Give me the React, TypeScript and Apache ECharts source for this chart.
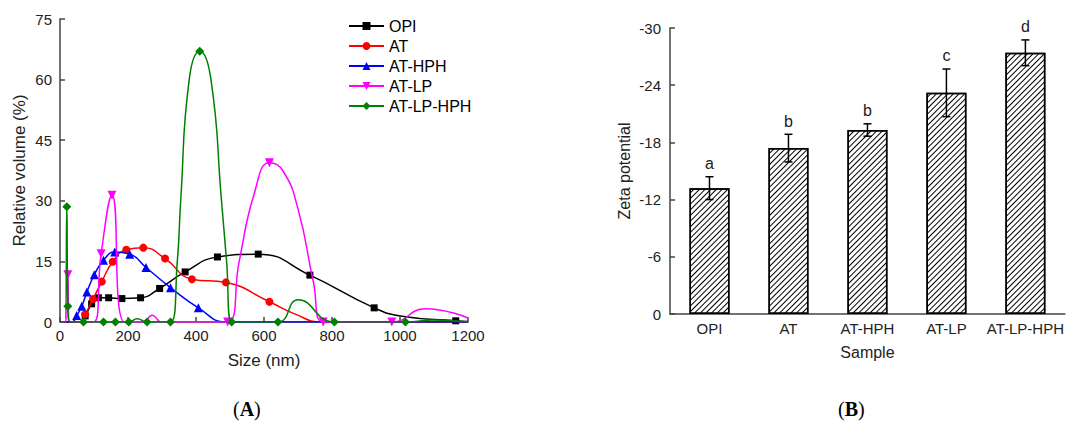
import React, { useEffect, useRef } from "react";
import * as echarts from "echarts";

const FONT = "'Liberation Sans', Arial, Helvetica, sans-serif";
const AXIS_COLOR = "#444";
const TEXT_COLOR = "#222";

// ---------- Panel A: particle size distribution ----------
const A_NAMES = ["OPI", "AT", "AT-HPH", "AT-LP", "AT-LP-HPH"];
const A_COLORS = ["#000000", "#ff0000", "#0000ff", "#ff00ff", "#008000"];

// marked points (with symbol) and unmarked curve points
const OPI_MARK_X = [74, 93, 113, 143, 182, 237, 293, 368, 463, 583, 735, 924, 1164];
const OPI_MARK_Y = [1.5, 4.5, 6.0, 6.0, 5.8, 6.0, 8.3, 12.4, 16.1, 16.8, 11.6, 3.5, 0.3];
const OPI_CURVE_X = [0, 55, 1006, 1200];
const OPI_CURVE_Y = [0, 0, 1.4, 0.1];

const AT_MARK_X = [74, 97, 123, 155, 195, 245, 309, 388, 488, 616];
const AT_MARK_Y = [1.9, 5.7, 10.0, 14.9, 17.9, 18.4, 15.7, 10.6, 9.8, 5.0];
const AT_CURVE_X = [0, 58, 690, 770, 1200];
const AT_CURVE_Y = [0, 0, 2.0, 0, 0];

const HPH_MARK_X = [49, 64, 79, 101, 128, 161, 205, 253, 325, 407];
const HPH_MARK_Y = [1.6, 3.9, 7.4, 11.7, 15.3, 17.3, 16.8, 13.5, 8.5, 3.5];
const HPH_CURVE_X = [0, 35, 490, 1200];
const HPH_CURVE_Y = [0, 0, 0, 0];

const LP_MARK_X = [23, 121, 153, 493, 616, 774, 976];
const LP_MARK_Y = [11.7, 16.9, 31.4, 0, 39.4, 0, 0];
const LP_CURVE_X = [0, 18, 28, 99, 190, 245, 271, 300, 527, 572, 655, 700, 745, 1075, 1200];
const LP_CURVE_Y = [0, 0, 0, 0, 0, 0, 1.7, 0, 15, 32, 37.5, 28, 10, 3.3, 1.0];

const LPH_MARK_X = [20, 23, 69, 128, 163, 202, 256, 325, 411, 505, 641, 807, 1016];
const LPH_MARK_Y = [28.5, 3.9, 0, 0, 0, 0, 0, 0, 67.0, 0, 0, 0, 0];
const LPH_CURVE_X = [0, 15, 30, 227, 345, 355, 380, 444, 475, 490, 700, 1100, 1200];
const LPH_CURVE_Y = [0, 0, 0, 0.8, 15, 30, 60, 60, 30, 15, 5.5, 0.5, 0];

const A_SYMBOLS = ["rect", "circle", "triangle", "path://M0,0L10,0L5,9Z", "diamond"];
const A_SYMBOL_SIZES = [7, 8, 9, 9, 9];

// ---------- Panel B: zeta potential ----------
const SAMPLES = ["OPI", "AT", "AT-HPH", "AT-LP", "AT-LP-HPH"];
const ZETA = [-13.2, -17.4, -19.3, -23.2, -27.4];
const ZETA_ERR = [1.2, 1.45, 0.65, 2.5, 1.35];
const LETTERS = ["a", "b", "b", "c", "d"];

function buildLine(mx: number[], my: number[], cx: number[], cy: number[]) {
  const pts: any[] = [];
  mx.forEach((x, i) => pts.push({ value: [x, my[i]] }));
  cx.forEach((x, i) => pts.push({ value: [x, cy[i]], symbol: "none" }));
  pts.sort((a, b) => a.value[0] - b.value[0]);
  return pts;
}

const LINES = [
  buildLine(OPI_MARK_X, OPI_MARK_Y, OPI_CURVE_X, OPI_CURVE_Y),
  buildLine(AT_MARK_X, AT_MARK_Y, AT_CURVE_X, AT_CURVE_Y),
  buildLine(HPH_MARK_X, HPH_MARK_Y, HPH_CURVE_X, HPH_CURVE_Y),
  buildLine(LP_MARK_X, LP_MARK_Y, LP_CURVE_X, LP_CURVE_Y),
  buildLine(LPH_MARK_X, LPH_MARK_Y, LPH_CURVE_X, LPH_CURVE_Y),
];

export default function App() {
  const ref = useRef<HTMLDivElement>(null);
  useEffect(() => {
    const chart = echarts.init(ref.current!, null, { renderer: "svg" });
    const axisLine = { show: true, lineStyle: { color: AXIS_COLOR, width: 1.5 } };
    const axisLabel = { fontSize: 15, color: TEXT_COLOR, fontFamily: FONT };
    const nameStyle = { fontSize: 17, color: TEXT_COLOR, fontFamily: FONT };
    const serif = "'Liberation Serif', 'Times New Roman', serif";

    const lineSeries = A_NAMES.map((name, i) => ({
      name,
      type: "line",
      xAxisIndex: 0,
      yAxisIndex: 0,
      data: LINES[i],
      smooth: 0.5,
      showSymbol: true,
      showAllSymbol: true,
      symbol: A_SYMBOLS[i],
      symbolSize: A_SYMBOL_SIZES[i],
      itemStyle: { color: A_COLORS[i] },
      lineStyle: { color: A_COLORS[i], width: 1.5 },
      z: 2 + i,
    }));

    const option: any = {
      animation: false,
      backgroundColor: "#fff",
      textStyle: { fontFamily: FONT },
      grid: [
        { left: 60, top: 19, width: 408, height: 303 },
        { left: 670, top: 28, width: 395, height: 286 },
      ],
      legend: {
        data: A_NAMES,
        orient: "vertical",
        left: 343,
        top: 13,
        itemWidth: 35,
        itemHeight: 10,
        itemGap: 4,
        textStyle: { fontSize: 16, color: "#000", fontFamily: FONT },
      },
      xAxis: [
        {
          gridIndex: 0,
          type: "value",
          min: 0,
          max: 1200,
          interval: 200,
          name: "Size (nm)",
          nameLocation: "middle",
          nameGap: 30,
          nameTextStyle: nameStyle,
          axisLine,
          axisTick: { show: true, inside: true, length: 5, lineStyle: { color: AXIS_COLOR, width: 1.5 } },
          axisLabel: { ...axisLabel, margin: 6, formatter: (v: number) => String(v) },
          splitLine: { show: false },
        },
        {
          gridIndex: 1,
          type: "category",
          data: SAMPLES,
          name: "Sample",
          nameLocation: "middle",
          nameGap: 30,
          nameTextStyle: { ...nameStyle, fontSize: 16 },
          axisLine,
          axisTick: { show: false },
          axisLabel: { ...axisLabel, margin: 7, interval: 0 },
        },
      ],
      yAxis: [
        {
          gridIndex: 0,
          type: "value",
          min: 0,
          max: 75,
          interval: 15,
          name: "Relative volume (%)",
          nameLocation: "middle",
          nameGap: 32,
          nameTextStyle: nameStyle,
          axisLine,
          axisTick: { show: true, inside: true, length: 5, lineStyle: { color: AXIS_COLOR, width: 1.5 } },
          axisLabel: { ...axisLabel, margin: 8 },
          splitLine: { show: false },
        },
        {
          gridIndex: 1,
          type: "value",
          min: -30,
          max: 0,
          interval: 6,
          inverse: true,
          name: "Zeta potential",
          nameLocation: "middle",
          nameGap: 38,
          nameTextStyle: { ...nameStyle, fontSize: 16 },
          axisLine,
          axisTick: { show: true, inside: true, length: 5, lineStyle: { color: AXIS_COLOR, width: 1.5 } },
          axisLabel: { ...axisLabel, margin: 9 },
          splitLine: { show: false },
        },
      ],
      series: [
        ...lineSeries,
        {
          type: "bar",
          xAxisIndex: 1,
          yAxisIndex: 1,
          data: ZETA,
          barWidth: 40,
          itemStyle: {
            color: "#ffffff",
            borderColor: "#000",
            borderWidth: 1.5,
            decal: {
              symbol: "rect",
              symbolSize: 1,
              color: "#000",
              dashArrayX: [1, 0],
              dashArrayY: [1, 2.3],
              rotation: -Math.PI / 4,
            },
          },
          z: 2,
        },
        {
          type: "custom",
          xAxisIndex: 1,
          yAxisIndex: 1,
          data: SAMPLES.map((s, i) => [i, ZETA[i], ZETA_ERR[i]]),
          z: 5,
          renderItem: (params: any, api: any) => {
            const i = api.value(0);
            const v = api.value(1);
            const e = api.value(2);
            const top = api.coord([i, v - e]);
            const bot = api.coord([i, v + e]);
            const cap = 4;
            const st = { stroke: "#000", lineWidth: 1.5 };
            return {
              type: "group",
              children: [
                { type: "line", shape: { x1: top[0], y1: top[1], x2: bot[0], y2: bot[1] }, style: st },
                { type: "line", shape: { x1: top[0] - cap, y1: top[1], x2: top[0] + cap, y2: top[1] }, style: st },
                { type: "line", shape: { x1: bot[0] - cap, y1: bot[1], x2: bot[0] + cap, y2: bot[1] }, style: st },
                {
                  type: "text",
                  style: {
                    text: LETTERS[params.dataIndex],
                    x: top[0],
                    y: top[1] - 5,
                    align: "center",
                    verticalAlign: "bottom",
                    fontSize: 16,
                    fontFamily: FONT,
                    fill: TEXT_COLOR,
                  },
                },
              ],
            };
          },
        },
      ],
      graphic: [
        {
          type: "text",
          left: 233,
          top: 399,
          style: {
            text: "({b|A})",
            fontSize: 20,
            fontFamily: serif,
            fill: "#000",
            rich: { b: { fontWeight: "bold", fontSize: 20, fontFamily: serif } },
          },
        },
        {
          type: "text",
          left: 838,
          top: 399,
          style: {
            text: "({b|B})",
            fontSize: 20,
            fontFamily: serif,
            fill: "#000",
            rich: { b: { fontWeight: "bold", fontSize: 20, fontFamily: serif } },
          },
        },
      ],
    };
    chart.setOption(option);
    return () => chart.dispose();
  }, []);
  return (
    <div
      ref={ref}
      style={{ position: "fixed", left: 0, top: 0, width: 1067, height: 427, background: "#fff" }}
    />
  );
}
